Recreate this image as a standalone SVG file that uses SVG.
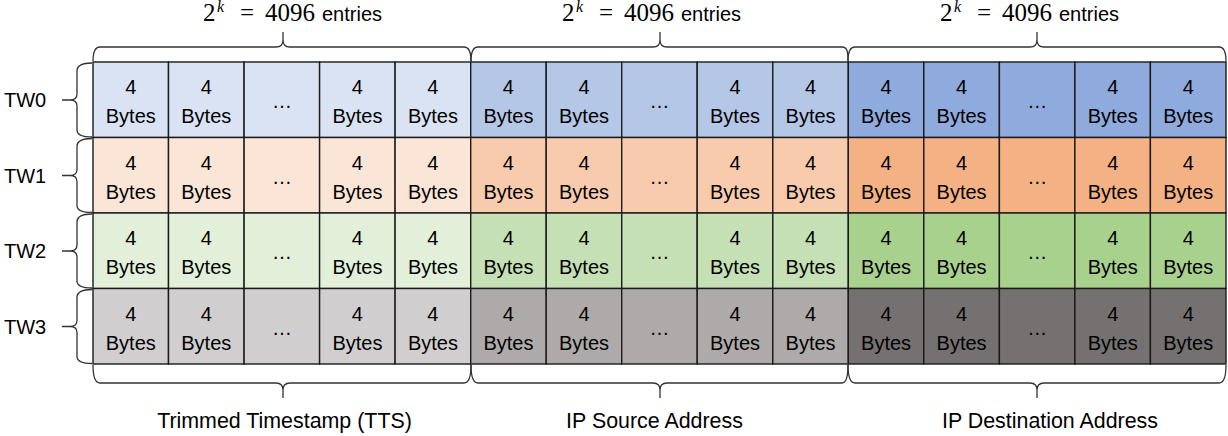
<svg xmlns="http://www.w3.org/2000/svg" width="1228" height="436" viewBox="0 0 1228 436">
<style>
.c{stroke:#1a1a1a;stroke-width:1.4}
.t{font-family:"Liberation Sans",Arial,sans-serif;font-size:20px;fill:#000;text-anchor:middle}
.bl{font-family:"Liberation Sans",Arial,sans-serif;font-size:21.4px;fill:#000;text-anchor:middle}
.lbl{font-family:"Liberation Sans",Arial,sans-serif;font-size:20px;fill:#000}
.m{font-family:"Liberation Serif","Times New Roman",serif;font-size:25px}
.k{font-family:"Liberation Serif","Times New Roman",serif;font-size:16px;font-style:italic}
.br{fill:none;stroke:#333;stroke-width:1.3}
.b0a{fill:#DAE3F3}.b0b{fill:#B4C7E7}.b0c{fill:#8FAADC}
.b1a{fill:#FBE5D6}.b1b{fill:#F8CBAD}.b1c{fill:#F4B183}
.b2a{fill:#E2F0D9}.b2b{fill:#C5E0B4}.b2c{fill:#A9D18E}
.b3a{fill:#D0CECE}.b3b{fill:#AEAAAA}.b3c{fill:#767171}
</style>

<g id="row-TW0" transform="translate(0,62)">
<g id="r0c0"><rect class="c b0a" x="93" y="0" width="75.5" height="75.5"/><text class="t" x="130.8" y="32">4</text><text class="t" x="130.8" y="61">Bytes</text></g>
<g id="r0c1"><rect class="c b0a" x="168.5" y="0" width="75.6" height="75.5"/><text class="t" x="206.3" y="32">4</text><text class="t" x="206.3" y="61">Bytes</text></g>
<g id="r0c2"><rect class="c b0a" x="244.1" y="0" width="75.5" height="75.5"/><text class="t" x="281.9" y="46">…</text></g>
<g id="r0c3"><rect class="c b0a" x="319.6" y="0" width="75.5" height="75.5"/><text class="t" x="357.4" y="32">4</text><text class="t" x="357.4" y="61">Bytes</text></g>
<g id="r0c4"><rect class="c b0a" x="395.1" y="0" width="75.6" height="75.5"/><text class="t" x="432.9" y="32">4</text><text class="t" x="432.9" y="61">Bytes</text></g>
<g id="r0c5"><rect class="c b0b" x="470.7" y="0" width="75.5" height="75.5"/><text class="t" x="508.4" y="32">4</text><text class="t" x="508.4" y="61">Bytes</text></g>
<g id="r0c6"><rect class="c b0b" x="546.2" y="0" width="75.5" height="75.5"/><text class="t" x="584.0" y="32">4</text><text class="t" x="584.0" y="61">Bytes</text></g>
<g id="r0c7"><rect class="c b0b" x="621.7" y="0" width="75.5" height="75.5"/><text class="t" x="659.5" y="46">…</text></g>
<g id="r0c8"><rect class="c b0b" x="697.2" y="0" width="75.6" height="75.5"/><text class="t" x="735.0" y="32">4</text><text class="t" x="735.0" y="61">Bytes</text></g>
<g id="r0c9"><rect class="c b0b" x="772.8" y="0" width="75.5" height="75.5"/><text class="t" x="810.6" y="32">4</text><text class="t" x="810.6" y="61">Bytes</text></g>
<g id="r0c10"><rect class="c b0c" x="848.3" y="0" width="75.5" height="75.5"/><text class="t" x="886.1" y="32">4</text><text class="t" x="886.1" y="61">Bytes</text></g>
<g id="r0c11"><rect class="c b0c" x="923.8" y="0" width="75.6" height="75.5"/><text class="t" x="961.6" y="32">4</text><text class="t" x="961.6" y="61">Bytes</text></g>
<g id="r0c12"><rect class="c b0c" x="999.4" y="0" width="75.5" height="75.5"/><text class="t" x="1037.2" y="46">…</text></g>
<g id="r0c13"><rect class="c b0c" x="1074.9" y="0" width="75.5" height="75.5"/><text class="t" x="1112.7" y="32">4</text><text class="t" x="1112.7" y="61">Bytes</text></g>
<g id="r0c14"><rect class="c b0c" x="1150.4" y="0" width="75.6" height="75.5"/><text class="t" x="1188.2" y="32">4</text><text class="t" x="1188.2" y="61">Bytes</text></g>
</g>

<g id="row-TW1" transform="translate(0,137.5)">
<g id="r1c0"><rect class="c b1a" x="93" y="0" width="75.5" height="75.5"/><text class="t" x="130.8" y="32">4</text><text class="t" x="130.8" y="61">Bytes</text></g>
<g id="r1c1"><rect class="c b1a" x="168.5" y="0" width="75.6" height="75.5"/><text class="t" x="206.3" y="32">4</text><text class="t" x="206.3" y="61">Bytes</text></g>
<g id="r1c2"><rect class="c b1a" x="244.1" y="0" width="75.5" height="75.5"/><text class="t" x="281.9" y="46">…</text></g>
<g id="r1c3"><rect class="c b1a" x="319.6" y="0" width="75.5" height="75.5"/><text class="t" x="357.4" y="32">4</text><text class="t" x="357.4" y="61">Bytes</text></g>
<g id="r1c4"><rect class="c b1a" x="395.1" y="0" width="75.6" height="75.5"/><text class="t" x="432.9" y="32">4</text><text class="t" x="432.9" y="61">Bytes</text></g>
<g id="r1c5"><rect class="c b1b" x="470.7" y="0" width="75.5" height="75.5"/><text class="t" x="508.4" y="32">4</text><text class="t" x="508.4" y="61">Bytes</text></g>
<g id="r1c6"><rect class="c b1b" x="546.2" y="0" width="75.5" height="75.5"/><text class="t" x="584.0" y="32">4</text><text class="t" x="584.0" y="61">Bytes</text></g>
<g id="r1c7"><rect class="c b1b" x="621.7" y="0" width="75.5" height="75.5"/><text class="t" x="659.5" y="46">…</text></g>
<g id="r1c8"><rect class="c b1b" x="697.2" y="0" width="75.6" height="75.5"/><text class="t" x="735.0" y="32">4</text><text class="t" x="735.0" y="61">Bytes</text></g>
<g id="r1c9"><rect class="c b1b" x="772.8" y="0" width="75.5" height="75.5"/><text class="t" x="810.6" y="32">4</text><text class="t" x="810.6" y="61">Bytes</text></g>
<g id="r1c10"><rect class="c b1c" x="848.3" y="0" width="75.5" height="75.5"/><text class="t" x="886.1" y="32">4</text><text class="t" x="886.1" y="61">Bytes</text></g>
<g id="r1c11"><rect class="c b1c" x="923.8" y="0" width="75.6" height="75.5"/><text class="t" x="961.6" y="32">4</text><text class="t" x="961.6" y="61">Bytes</text></g>
<g id="r1c12"><rect class="c b1c" x="999.4" y="0" width="75.5" height="75.5"/><text class="t" x="1037.2" y="46">…</text></g>
<g id="r1c13"><rect class="c b1c" x="1074.9" y="0" width="75.5" height="75.5"/><text class="t" x="1112.7" y="32">4</text><text class="t" x="1112.7" y="61">Bytes</text></g>
<g id="r1c14"><rect class="c b1c" x="1150.4" y="0" width="75.6" height="75.5"/><text class="t" x="1188.2" y="32">4</text><text class="t" x="1188.2" y="61">Bytes</text></g>
</g>

<g id="row-TW2" transform="translate(0,213)">
<g id="r2c0"><rect class="c b2a" x="93" y="0" width="75.5" height="75.5"/><text class="t" x="130.8" y="32">4</text><text class="t" x="130.8" y="61">Bytes</text></g>
<g id="r2c1"><rect class="c b2a" x="168.5" y="0" width="75.6" height="75.5"/><text class="t" x="206.3" y="32">4</text><text class="t" x="206.3" y="61">Bytes</text></g>
<g id="r2c2"><rect class="c b2a" x="244.1" y="0" width="75.5" height="75.5"/><text class="t" x="281.9" y="46">…</text></g>
<g id="r2c3"><rect class="c b2a" x="319.6" y="0" width="75.5" height="75.5"/><text class="t" x="357.4" y="32">4</text><text class="t" x="357.4" y="61">Bytes</text></g>
<g id="r2c4"><rect class="c b2a" x="395.1" y="0" width="75.6" height="75.5"/><text class="t" x="432.9" y="32">4</text><text class="t" x="432.9" y="61">Bytes</text></g>
<g id="r2c5"><rect class="c b2b" x="470.7" y="0" width="75.5" height="75.5"/><text class="t" x="508.4" y="32">4</text><text class="t" x="508.4" y="61">Bytes</text></g>
<g id="r2c6"><rect class="c b2b" x="546.2" y="0" width="75.5" height="75.5"/><text class="t" x="584.0" y="32">4</text><text class="t" x="584.0" y="61">Bytes</text></g>
<g id="r2c7"><rect class="c b2b" x="621.7" y="0" width="75.5" height="75.5"/><text class="t" x="659.5" y="46">…</text></g>
<g id="r2c8"><rect class="c b2b" x="697.2" y="0" width="75.6" height="75.5"/><text class="t" x="735.0" y="32">4</text><text class="t" x="735.0" y="61">Bytes</text></g>
<g id="r2c9"><rect class="c b2b" x="772.8" y="0" width="75.5" height="75.5"/><text class="t" x="810.6" y="32">4</text><text class="t" x="810.6" y="61">Bytes</text></g>
<g id="r2c10"><rect class="c b2c" x="848.3" y="0" width="75.5" height="75.5"/><text class="t" x="886.1" y="32">4</text><text class="t" x="886.1" y="61">Bytes</text></g>
<g id="r2c11"><rect class="c b2c" x="923.8" y="0" width="75.6" height="75.5"/><text class="t" x="961.6" y="32">4</text><text class="t" x="961.6" y="61">Bytes</text></g>
<g id="r2c12"><rect class="c b2c" x="999.4" y="0" width="75.5" height="75.5"/><text class="t" x="1037.2" y="46">…</text></g>
<g id="r2c13"><rect class="c b2c" x="1074.9" y="0" width="75.5" height="75.5"/><text class="t" x="1112.7" y="32">4</text><text class="t" x="1112.7" y="61">Bytes</text></g>
<g id="r2c14"><rect class="c b2c" x="1150.4" y="0" width="75.6" height="75.5"/><text class="t" x="1188.2" y="32">4</text><text class="t" x="1188.2" y="61">Bytes</text></g>
</g>

<g id="row-TW3" transform="translate(0,288.5)">
<g id="r3c0"><rect class="c b3a" x="93" y="0" width="75.5" height="75.5"/><text class="t" x="130.8" y="32">4</text><text class="t" x="130.8" y="61">Bytes</text></g>
<g id="r3c1"><rect class="c b3a" x="168.5" y="0" width="75.6" height="75.5"/><text class="t" x="206.3" y="32">4</text><text class="t" x="206.3" y="61">Bytes</text></g>
<g id="r3c2"><rect class="c b3a" x="244.1" y="0" width="75.5" height="75.5"/><text class="t" x="281.9" y="46">…</text></g>
<g id="r3c3"><rect class="c b3a" x="319.6" y="0" width="75.5" height="75.5"/><text class="t" x="357.4" y="32">4</text><text class="t" x="357.4" y="61">Bytes</text></g>
<g id="r3c4"><rect class="c b3a" x="395.1" y="0" width="75.6" height="75.5"/><text class="t" x="432.9" y="32">4</text><text class="t" x="432.9" y="61">Bytes</text></g>
<g id="r3c5"><rect class="c b3b" x="470.7" y="0" width="75.5" height="75.5"/><text class="t" x="508.4" y="32">4</text><text class="t" x="508.4" y="61">Bytes</text></g>
<g id="r3c6"><rect class="c b3b" x="546.2" y="0" width="75.5" height="75.5"/><text class="t" x="584.0" y="32">4</text><text class="t" x="584.0" y="61">Bytes</text></g>
<g id="r3c7"><rect class="c b3b" x="621.7" y="0" width="75.5" height="75.5"/><text class="t" x="659.5" y="46">…</text></g>
<g id="r3c8"><rect class="c b3b" x="697.2" y="0" width="75.6" height="75.5"/><text class="t" x="735.0" y="32">4</text><text class="t" x="735.0" y="61">Bytes</text></g>
<g id="r3c9"><rect class="c b3b" x="772.8" y="0" width="75.5" height="75.5"/><text class="t" x="810.6" y="32">4</text><text class="t" x="810.6" y="61">Bytes</text></g>
<g id="r3c10"><rect class="c b3c" x="848.3" y="0" width="75.5" height="75.5"/><text class="t" x="886.1" y="32">4</text><text class="t" x="886.1" y="61">Bytes</text></g>
<g id="r3c11"><rect class="c b3c" x="923.8" y="0" width="75.6" height="75.5"/><text class="t" x="961.6" y="32">4</text><text class="t" x="961.6" y="61">Bytes</text></g>
<g id="r3c12"><rect class="c b3c" x="999.4" y="0" width="75.5" height="75.5"/><text class="t" x="1037.2" y="46">…</text></g>
<g id="r3c13"><rect class="c b3c" x="1074.9" y="0" width="75.5" height="75.5"/><text class="t" x="1112.7" y="32">4</text><text class="t" x="1112.7" y="61">Bytes</text></g>
<g id="r3c14"><rect class="c b3c" x="1150.4" y="0" width="75.6" height="75.5"/><text class="t" x="1188.2" y="32">4</text><text class="t" x="1188.2" y="61">Bytes</text></g>
</g>

<g id="connectors">
<path class="br" d="M93,61 C93,51 95,47 100,47 L276,47 C281,47 283,45 283,40 L283,32 M283,40 C283,45 285,47 290,47 L464,47 C469,47 471,51 471,61"/>
<path class="br" d="M471,61 C471,51 473,47 478,47 L653,47 C658,47 660,45 660,40 L660,32 M660,40 C660,45 662,47 667,47 L842,47 C847,47 848,51 848,61"/>
<path class="br" d="M848,61 C848,51 850,47 855,47 L1030,47 C1035,47 1037,45 1037,40 L1037,32 M1037,40 C1037,45 1039,47 1044,47 L1219,47 C1224,47 1226,51 1226,61"/>
<path class="br" d="M93,365 C93,375 95,383 100,383 L276,383 C281,383 283,385 283,390 L283,398 M283,390 C283,385 285,383 290,383 L464,383 C469,383 471,375 471,365"/>
<path class="br" d="M471,365 C471,375 473,383 478,383 L653,383 C658,383 660,385 660,390 L660,398 M660,390 C660,385 662,383 667,383 L842,383 C847,383 848,375 848,365"/>
<path class="br" d="M848,365 C848,375 850,383 855,383 L1030,383 C1035,383 1037,385 1037,390 L1037,398 M1037,390 C1037,385 1039,383 1044,383 L1219,383 C1224,383 1226,375 1226,365"/>
<path class="br" d="M92,63 C82,63 77,65 77,71 L77,94 C77,98 75,100 70,100 L62,100 M70,100 C75,100 77,102 77,106 L77,130 C77,135 82,137 92,137"/>
<path class="br" d="M92,138.5 C82,138.5 77,140.5 77,146.5 L77,169.5 C77,173.5 75,175.5 70,175.5 L62,175.5 M70,175.5 C75,175.5 77,177.5 77,181.5 L77,205.5 C77,210.5 82,212.5 92,212.5"/>
<path class="br" d="M92,214 C82,214 77,216 77,222 L77,245 C77,249 75,251 70,251 L62,251 M70,251 C75,251 77,253 77,257 L77,281 C77,286 82,288 92,288"/>
<path class="br" d="M92,289.5 C82,289.5 77,291.5 77,297.5 L77,320.5 C77,324.5 75,326.5 70,326.5 L62,326.5 M70,326.5 C75,326.5 77,328.5 77,332.5 L77,356.5 C77,361.5 82,363.5 92,363.5"/>
</g>

<g id="labels">
<text class="lbl" x="4" y="107">TW0</text>
<text class="lbl" x="4" y="182.5">TW1</text>
<text class="lbl" x="4" y="258">TW2</text>
<text class="lbl" x="4" y="333.5">TW3</text>

<text class="lbl" y="21"><tspan class="m" x="203">2</tspan><tspan class="k" x="217" y="12">k</tspan><tspan class="m" x="240" y="21">=</tspan><tspan class="m" x="265">4096</tspan><tspan x="322">entries</tspan></text>
<text class="lbl" y="21"><tspan class="m" x="562">2</tspan><tspan class="k" x="576" y="12">k</tspan><tspan class="m" x="599" y="21">=</tspan><tspan class="m" x="624">4096</tspan><tspan x="681">entries</tspan></text>
<text class="lbl" y="21"><tspan class="m" x="940">2</tspan><tspan class="k" x="954" y="12">k</tspan><tspan class="m" x="977" y="21">=</tspan><tspan class="m" x="1002">4096</tspan><tspan x="1059">entries</tspan></text>

<text class="bl" x="284.5" y="428">Trimmed Timestamp (TTS)</text>
<text class="bl" x="654.5" y="428">IP Source Address</text>
<text class="bl" x="1050" y="428">IP Destination Address</text>
</g>
</svg>
